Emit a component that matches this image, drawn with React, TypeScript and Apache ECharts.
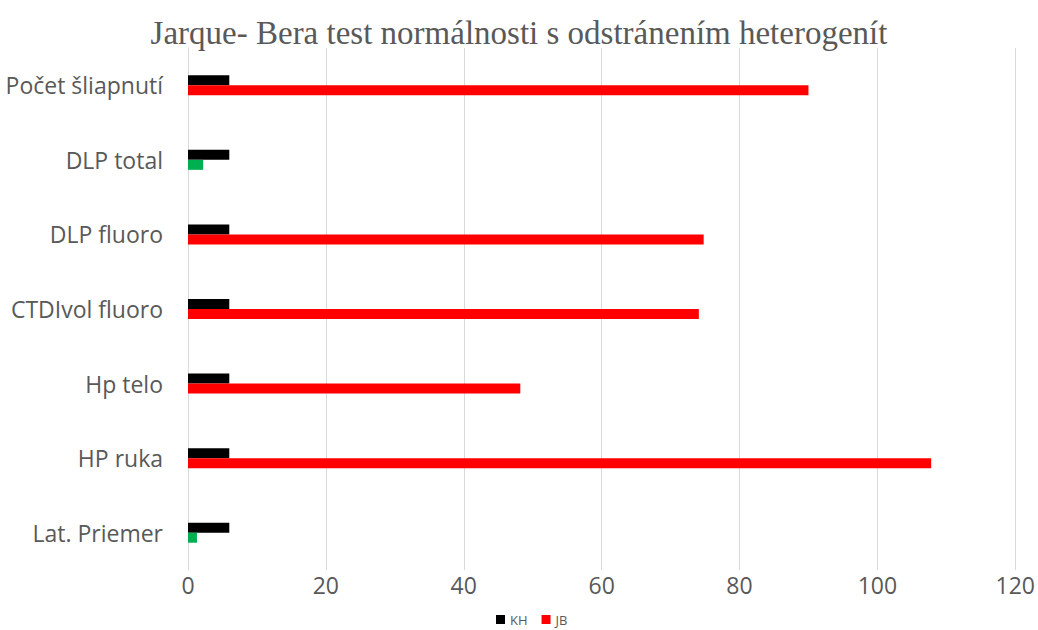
import React, { useEffect, useRef } from "react";
import * as echarts from "echarts";

const categories = ["Lat. Priemer", "HP ruka", "Hp telo", "CTDIvol fluoro", "DLP fluoro", "DLP total", "Počet šliapnutí"];
const khValues = [5.99, 5.99, 5.99, 5.99, 5.99, 5.99, 5.99];
const jbValues = [1.3, 107.8, 48.2, 74.1, 74.8, 2.2, 90.0];
const xTicks = { min: 0, max: 120, interval: 20 };

export default function App() {
  const ref = useRef<HTMLDivElement>(null);
  useEffect(() => {
    document.body.style.margin = "0";
    const chart = echarts.init(ref.current!, null, { renderer: "svg" });
    const jbData = jbValues.map((v, i) => ({
      value: v,
      itemStyle: { color: v < khValues[i] ? "#00B050" : "#FF0000" },
    }));
    chart.setOption({
      animation: false,
      title: {
        text: "Jarque- Bera test normálnosti s odstránením heterogenít",
        left: "center",
        top: 11,
        textStyle: { fontFamily: "Liberation Serif", fontSize: 33, fontWeight: "normal", color: "#595959" },
      },
      legend: {
        data: ["KH", "JB"],
        top: 613,
        left: 496,
        padding: 0,
        itemWidth: 9,
        itemHeight: 9,
        itemGap: 14,
        icon: "rect",
        textStyle: { fontFamily: "Open Sans", fontSize: 13, color: "#595959" },
      },
      grid: { left: 188, right: 21, top: 48, bottom: 60, containLabel: false },
      xAxis: {
        type: "value",
        min: xTicks.min,
        max: xTicks.max,
        interval: xTicks.interval,
        axisLine: { show: false },
        axisTick: { show: false },
        axisLabel: { fontFamily: "Open Sans", fontSize: 23, color: "#595959", margin: 3 },
        splitLine: { lineStyle: { color: "#d9d9d9", width: 1 } },
      },
      yAxis: {
        type: "category",
        data: categories,
        axisLine: { show: true, lineStyle: { color: "#d9d9d9" } },
        axisTick: { show: false },
        axisLabel: { fontFamily: "Open Sans", fontSize: 23, color: "#595959", margin: 25 },
      },
      series: [
        { name: "KH", type: "bar", data: khValues, barWidth: 10, barGap: "0%", itemStyle: { color: "#000000" } },
        { name: "JB", type: "bar", data: jbData, barWidth: 10, barGap: "0%", itemStyle: { color: "#FF0000" } },
      ],
    });
    return () => chart.dispose();
  }, []);
  return <div ref={ref} style={{ width: 1038, height: 630 }} />;
}
